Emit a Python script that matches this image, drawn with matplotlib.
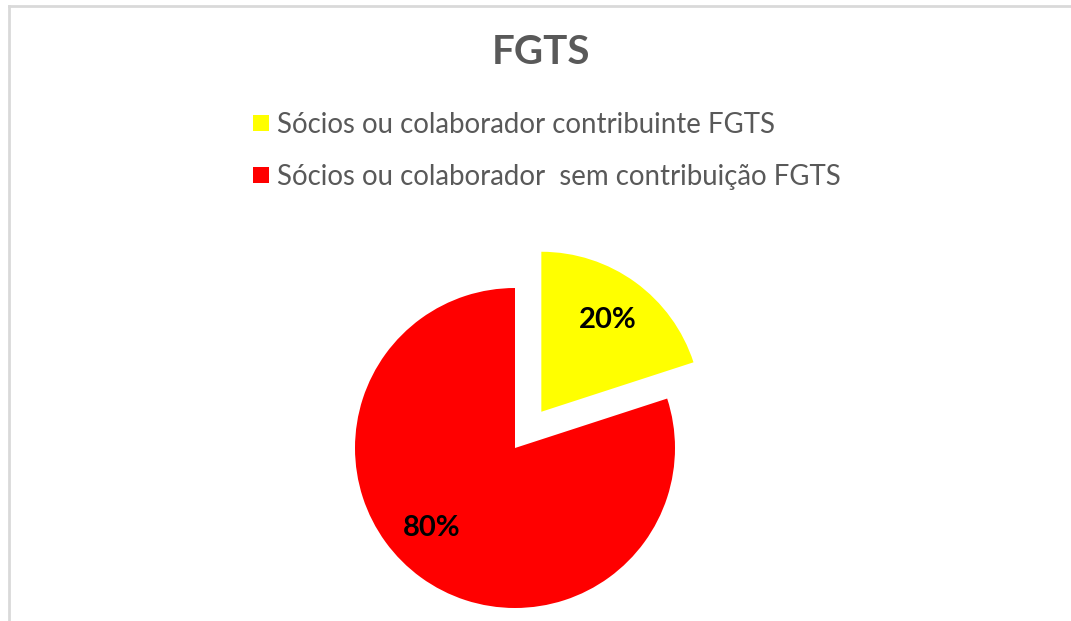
import numpy as np
import matplotlib
matplotlib.use("Agg")
import matplotlib.pyplot as plt
from matplotlib.lines import Line2D

# dados do grafico
titulo = "FGTS"
categorias = ["Sócios ou colaborador contribuinte FGTS",
              "Sócios ou colaborador  sem contribuição FGTS"]
valores = [20, 80]
cores = ["#ffff00", "#ff0000"]

W, H = 1071, 621
fig = plt.figure(figsize=(W / 100, H / 100), dpi=100)
fig.patch.set_facecolor("white")

# moldura cinza (topo e esquerda)
borda = "#d9d9d9"
fig.add_artist(Line2D([9 / W, 1070 / W], [1 - 6 / H, 1 - 6 / H], color=borda, lw=2, transform=fig.transFigure))
fig.add_artist(Line2D([9 / W, 9 / W], [0, 1 - 6 / H], color=borda, lw=2, transform=fig.transFigure))

# eixo da pizza: 160 px por unidade
cx, cy, meio = 515, H - 448, 256
ax = fig.add_axes([(cx - meio) / W, (cy - meio) / H, 2 * meio / W, 2 * meio / H])
fatias, textos, pcts = ax.pie(valores, colors=cores, startangle=90, counterclock=False,
                              explode=[0.28, 0], autopct="%1.0f%%", pctdistance=0.71,
                              wedgeprops=dict(linewidth=0),
                              textprops=dict(fontsize=21, fontweight="bold", color="black",
                                             family="Lato"))
# rotulo 80% fica no quadrante inferior esquerdo, como no Excel
ang = np.deg2rad(224)
pcts[1].set_position((0.72 * np.cos(ang), 0.72 * np.sin(ang)))
ax.set_xlim(-1.6, 1.6)
ax.set_ylim(-1.6, 1.6)
ax.axis("off")

fig.text(541 / W, 1 - 53 / H, titulo, ha="center", va="center", fontsize=29,
         fontweight="bold", color="#595959", family="Lato")

fig.legend(fatias, categorias, loc="upper left", bbox_to_anchor=(253 / W, 1 - 112 / H),
           bbox_transform=fig.transFigure, frameon=False,
           handlelength=0.58, handleheight=0.51, handletextpad=0.3, labelspacing=0.95,
           borderpad=0, borderaxespad=0, labelcolor="#595959", prop=dict(family="Lato", size=19.9))

fig.savefig("out.png", dpi=100, facecolor="white")
